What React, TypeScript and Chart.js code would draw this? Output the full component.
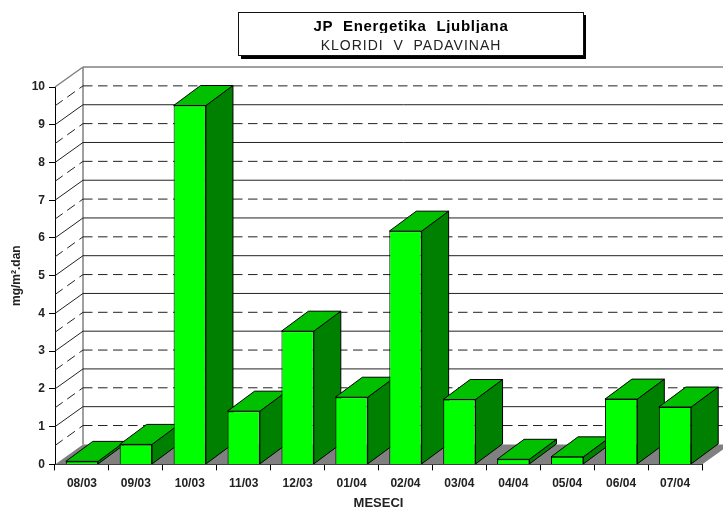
import React, { useEffect, useRef } from "react";
import { Chart, registerables } from "chart.js";

Chart.register(...registerables);

const categories = ["08/03","09/03","10/03","11/03","12/03","01/04","02/04","03/04","04/04","05/04","06/04","07/04"];
const values = [0.08,0.53,9.51,1.41,3.53,1.78,6.18,1.72,0.135,0.2,1.73,1.52];
const halfTicks = [0.5,1.5,2.5,3.5,4.5,5.5,6.5,7.5,8.5,9.5];
const wholeTicks = [1,2,3,4,5,6,7,8,9];
const titleText = "JP  Energetika  Ljubljana";
const subtitleText = "KLORIDI  V  PADAVINAH";
const yTitle = "mg/m\u00b2.dan";
const xTitle = "MESECI";

const WALL_DX = 28, WALL_DY = -20;
const BAR_DX = 27, BAR_DY = -20;
const FONT = "'Liberation Sans', Arial, sans-serif";

function line(ctx: CanvasRenderingContext2D, x1: number, y1: number, x2: number, y2: number) {
  ctx.beginPath(); ctx.moveTo(x1, y1); ctx.lineTo(x2, y2); ctx.stroke();
}
function poly(ctx: CanvasRenderingContext2D, pts: number[][], fill: string) {
  ctx.beginPath();
  pts.forEach((p, i) => (i ? ctx.lineTo(p[0], p[1]) : ctx.moveTo(p[0], p[1])));
  ctx.closePath();
  ctx.fillStyle = fill; ctx.fill();
  ctx.strokeStyle = "#000"; ctx.lineWidth = 1; ctx.stroke();
}
function spaced(box: any, ctx: any, spacing: string) {
  const draw = box.draw;
  box.draw = function (...a: any[]) {
    ctx.letterSpacing = spacing;
    draw.apply(box, a);
    ctx.letterSpacing = "0px";
  };
}

const box3d = {
  id: "box3d",
  beforeDraw(chart: any) {
    const { ctx } = chart;
    ctx.save();
    // title frame
    ctx.fillStyle = "#000";
    ctx.fillRect(241, 15, 345, 44);
    ctx.fillStyle = "#fff";
    ctx.fillRect(239, 13, 344, 43);
    ctx.strokeStyle = "#111"; ctx.lineWidth = 1;
    ctx.strokeRect(238.5, 12.5, 345, 43);
    ctx.restore();
  },
  afterLayout(chart: any) {
    for (const b of chart.boxes) {
      const t = b.options && b.options.text;
      if (t === titleText || t === subtitleText) { b.left = 239; b.right = 583; b.width = 344; }
      if (t === titleText) { b.top = 18; b.bottom = 36; spaced(b, chart.ctx, "0.7px"); }
      if (t === subtitleText) { b.top = 37.6; b.bottom = 54; spaced(b, chart.ctx, "1px"); }
    }
  },
  beforeDatasetsDraw(chart: any) {
    const { ctx, chartArea: a, scales } = chart;
    const y = scales.y;
    const l = a.left, r = a.right, b = y.getPixelForValue(0), t = y.getPixelForValue(10);
    ctx.save();
    // floor
    ctx.fillStyle = "#808080";
    ctx.beginPath();
    ctx.moveTo(l, b); ctx.lineTo(r, b); ctx.lineTo(r + WALL_DX, b + WALL_DY); ctx.lineTo(l + WALL_DX, b + WALL_DY);
    ctx.closePath(); ctx.fill();
    // back wall frame, lighter than the grid
    ctx.strokeStyle = "#808080"; ctx.lineWidth = 1.5;
    line(ctx, l + WALL_DX, t + WALL_DY, l + WALL_DX, b + WALL_DY);
    line(ctx, l, t, l + WALL_DX, t + WALL_DY);
    line(ctx, l + WALL_DX, t + WALL_DY, r + WALL_DX, t + WALL_DY);
    ctx.strokeStyle = "#222"; ctx.lineWidth = 1;
    wholeTicks.forEach((v) => {
      const p = y.getPixelForValue(v);
      line(ctx, l, p, l + WALL_DX, p + WALL_DY);
      line(ctx, l + WALL_DX, p + WALL_DY, r + WALL_DX, p + WALL_DY);
    });
    ctx.setLineDash([9.5, 5.5]);
    halfTicks.forEach((v) => {
      const p = y.getPixelForValue(v);
      line(ctx, l, p, l + WALL_DX, p + WALL_DY);
      line(ctx, l + WALL_DX, p + WALL_DY, r + WALL_DX, p + WALL_DY);
    });
    ctx.restore();
  },
  beforeDatasetDraw(chart: any, args: any) {
    const { ctx } = chart;
    ctx.save();
    args.meta.data.forEach((el: any) => {
      const { x, y, base, width } = el.getProps(["x", "y", "base", "width"], true);
      const x0 = x - width / 2, x1 = x + width / 2;
      poly(ctx, [[x1, y], [x1 + BAR_DX, y + BAR_DY], [x1 + BAR_DX, base + BAR_DY], [x1, base]], "#008000");
      poly(ctx, [[x0, y], [x1, y], [x1 + BAR_DX, y + BAR_DY], [x0 + BAR_DX, y + BAR_DY]], "#00C000");
    });
    ctx.restore();
  },
  afterDraw(chart: any) {
    // the reference cuts the title's descenders off at the line below
    const { ctx } = chart;
    ctx.save();
    ctx.fillStyle = "#fff";
    ctx.fillRect(250, 33, 320, 7);
    ctx.restore();
  },
};

export default function App() {
  const ref = useRef<HTMLCanvasElement>(null);
  useEffect(() => {
    const chart = new Chart(ref.current!, {
      type: "bar",
      data: {
        labels: categories,
        datasets: [{
          data: values,
          backgroundColor: "#00FF00",
          borderColor: "#000",
          borderWidth: 1,
          barPercentage: 0.6,
          categoryPercentage: 1,
        }],
      },
      options: {
        responsive: false,
        animation: false,
        layout: { padding: { left: 9, right: 21, top: 52.2, bottom: 0 } },
        plugins: {
          legend: { display: false },
          tooltip: { enabled: false },
          title: {
            display: true, text: titleText, color: "#000",
            font: { family: FONT, size: 15, weight: "bold" },
            padding: 0,
          },
          subtitle: {
            display: true, text: subtitleText, color: "#222",
            font: { family: FONT, size: 14, weight: "normal" },
            padding: 0,
          },
        },
        scales: {
          x: {
            grid: { drawOnChartArea: false, tickLength: 6, color: "#000", tickColor: "#000" },
            border: { color: "#000" },
            ticks: { color: "#222", font: { family: FONT, size: 12, weight: "bold" }, maxRotation: 0, padding: 6 },
            title: { display: true, text: xTitle, color: "#222", font: { family: FONT, size: 13, weight: "bold" }, padding: { top: 4.5, bottom: 0 } },
            afterFit(s: any) { s.height = 46.6; },
          },
          y: {
            min: 0, max: 10,
            grid: { drawOnChartArea: false, tickLength: 6, color: "#000", tickColor: "#000" },
            border: { color: "#000" },
            ticks: { stepSize: 1, color: "#222", font: { family: FONT, size: 12, weight: "bold" }, padding: 4 },
            title: { display: true, text: yTitle, color: "#222", font: { family: FONT, size: 12, weight: "bold" }, padding: { top: 0, bottom: 2 } },
            afterFit(s: any) { s.width = 46; },
          },
        },
      },
      plugins: [box3d],
    } as any);
    return () => chart.destroy();
  }, []);
  return (
    <div style={{ position: "fixed", left: 0, top: 0 }}>
      <canvas ref={ref} width={723} height={511} style={{ display: "block" }} />
    </div>
  );
}
